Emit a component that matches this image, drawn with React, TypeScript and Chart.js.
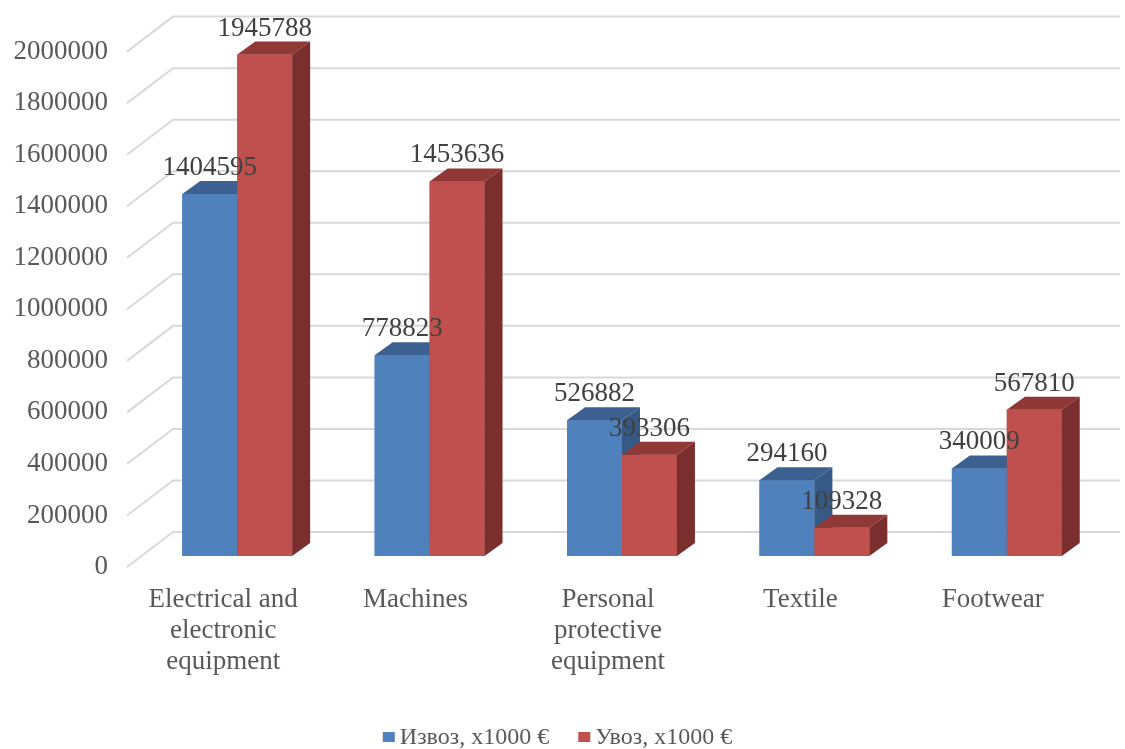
import React, { useEffect, useRef } from "react";
import { Chart, registerables } from "chart.js";

Chart.register(...registerables);

const categories: (string | string[])[] = [
  ["Electrical and", "electronic", "equipment"],
  "Machines",
  ["Personal", "protective", "equipment"],
  "Textile",
  "Footwear",
];
const exportValues = [1404595, 778823, 526882, 294160, 340009];
const importValues = [1945788, 1453636, 393306, 109328, 567810];
const seriesNames = ["Извоз, x1000 €", "Увоз, x1000 €"];
const yMin = 0;
const yMax = 2000000;
const yStep = 200000;

const FRONT = ["#4F81BD", "#C0504D"];
const TOP = ["#3C6090", "#8F3836"];
const SIDE = ["#365A86", "#7A2E2D"];
const GRID = "#D9D9D9";
const TICK_COLOR = "#595959";
const LABEL_COLOR = "#404040";
const FONT = "'Liberation Serif', 'Times New Roman', serif";

const DX = 18;
const DY = -13;

const threeD = {
  id: "threeD",
  beforeDatasetsDraw(chart: any) {
    const { ctx, chartArea } = chart;
    const y = chart.scales.y;
    ctx.save();
    ctx.strokeStyle = GRID;
    ctx.lineWidth = 2;
    y.ticks.forEach((t: any) => {
      const p = y.getPixelForValue(t.value);
      ctx.beginPath();
      ctx.moveTo(chartArea.left - 14, p + 11);
      ctx.lineTo(chartArea.left + 32, p - 24);
      ctx.lineTo(chartArea.right + 17, p - 24);
      ctx.stroke();
    });
    ctx.restore();
  },
  afterDatasetsDraw(chart: any) {
    const { ctx } = chart;
    ctx.save();
    // redraw the boxes in series order so that the right-hand bar covers the left one
    chart.data.datasets.forEach((_ds: any, idx: number) => {
      const meta = chart.getDatasetMeta(idx);
      meta.data.forEach((el: any) => {
        const { x, y, base, width } = el.getProps(["x", "y", "base", "width"], true);
        const l = x - width / 2;
        const r = x + width / 2;
        ctx.fillStyle = FRONT[idx];
        ctx.fillRect(l, y, r - l, base - y);
        ctx.fillStyle = TOP[idx];
        ctx.beginPath();
        ctx.moveTo(l, y);
        ctx.lineTo(l + DX, y + DY);
        ctx.lineTo(r + DX, y + DY);
        ctx.lineTo(r, y);
        ctx.closePath();
        ctx.fill();
        ctx.fillStyle = SIDE[idx];
        ctx.beginPath();
        ctx.moveTo(r, y);
        ctx.lineTo(r + DX, y + DY);
        ctx.lineTo(r + DX, base + DY);
        ctx.lineTo(r, base);
        ctx.closePath();
        ctx.fill();
      });
    });
    // value labels
    ctx.font = `27px ${FONT}`;
    ctx.fillStyle = LABEL_COLOR;
    ctx.textAlign = "center";
    ctx.textBaseline = "middle";
    chart.data.datasets.forEach((ds: any, i: number) => {
      const meta = chart.getDatasetMeta(i);
      meta.data.forEach((el: any, j: number) => {
        const { x, y } = el.getProps(["x", "y"], true);
        ctx.fillText(String(ds.data[j]), x, y - 26);
      });
    });
    ctx.restore();
  },
  afterDraw(chart: any) {
    const { ctx } = chart;
    ctx.save();
    ctx.font = `24px ${FONT}`;
    ctx.textBaseline = "middle";
    ctx.textAlign = "left";
    const box = 12;
    const gap = 5;
    const spacing = 29;
    const widths = chart.data.datasets.map((d: any) => ctx.measureText(d.label).width);
    let total = 0;
    widths.forEach((w: number, i: number) => {
      total += box + gap + w + (i > 0 ? spacing : 0);
    });
    const cx = chart.width / 2 - 3;
    let x = cx - total / 2 - 2;
    const yc = 738;
    chart.data.datasets.forEach((d: any, i: number) => {
      ctx.fillStyle = FRONT[i];
      ctx.fillRect(x, yc - box / 2, box, box - 2);
      x += box + gap;
      ctx.fillStyle = TICK_COLOR;
      ctx.fillText(d.label, x, yc);
      x += widths[i] + spacing;
    });
    ctx.restore();
  },
};

export default function App() {
  const ref = useRef<HTMLCanvasElement | null>(null);
  useEffect(() => {
    document.body.style.margin = "0";
    const canvas = ref.current;
    if (!canvas) return;
    const chart = new Chart(canvas, {
      type: "bar",
      data: {
        labels: categories,
        datasets: [
          {
            label: seriesNames[0],
            data: exportValues,
            backgroundColor: FRONT[0],
            categoryPercentage: 0.571,
            barPercentage: 1,
          },
          {
            label: seriesNames[1],
            data: importValues,
            backgroundColor: FRONT[1],
            categoryPercentage: 0.571,
            barPercentage: 1,
          },
        ],
      },
      options: {
        responsive: false,
        animation: false,
        devicePixelRatio: 1,
        layout: { padding: { top: 40.6, right: 22, left: 0, bottom: 0 } },
        plugins: {
          legend: { display: false },
          tooltip: { enabled: false },
        },
        scales: {
          x: {
            grid: { display: false, drawTicks: false },
            border: { display: false },
            ticks: {
              font: { family: FONT, size: 27, lineHeight: 1.15 },
              color: TICK_COLOR,
              padding: 28,
              labelOffset: -14,
              maxRotation: 0,
              autoSkip: false,
            },
            afterFit(scale: any) {
              scale.height = 193;
              scale.paddingLeft = 0;
              scale.paddingRight = 0;
            },
          },
          y: {
            min: yMin,
            max: yMax,
            grid: { display: false, drawTicks: false },
            border: { display: false },
            ticks: {
              stepSize: yStep,
              font: { family: FONT, size: 27 },
              color: TICK_COLOR,
              padding: 33,
              labelOffset: 11,
              callback: (v: any) => String(v),
            },
            afterFit(scale: any) {
              scale.width = 141;
              scale.paddingTop = 0;
              scale.paddingBottom = 0;
            },
          },
        },
      },
      plugins: [threeD],
    } as any);
    return () => chart.destroy();
  }, []);
  return (
    <canvas
      ref={ref}
      width={1125}
      height={749}
      style={{ display: "block", width: 1125, height: 749 }}
    />
  );
}
